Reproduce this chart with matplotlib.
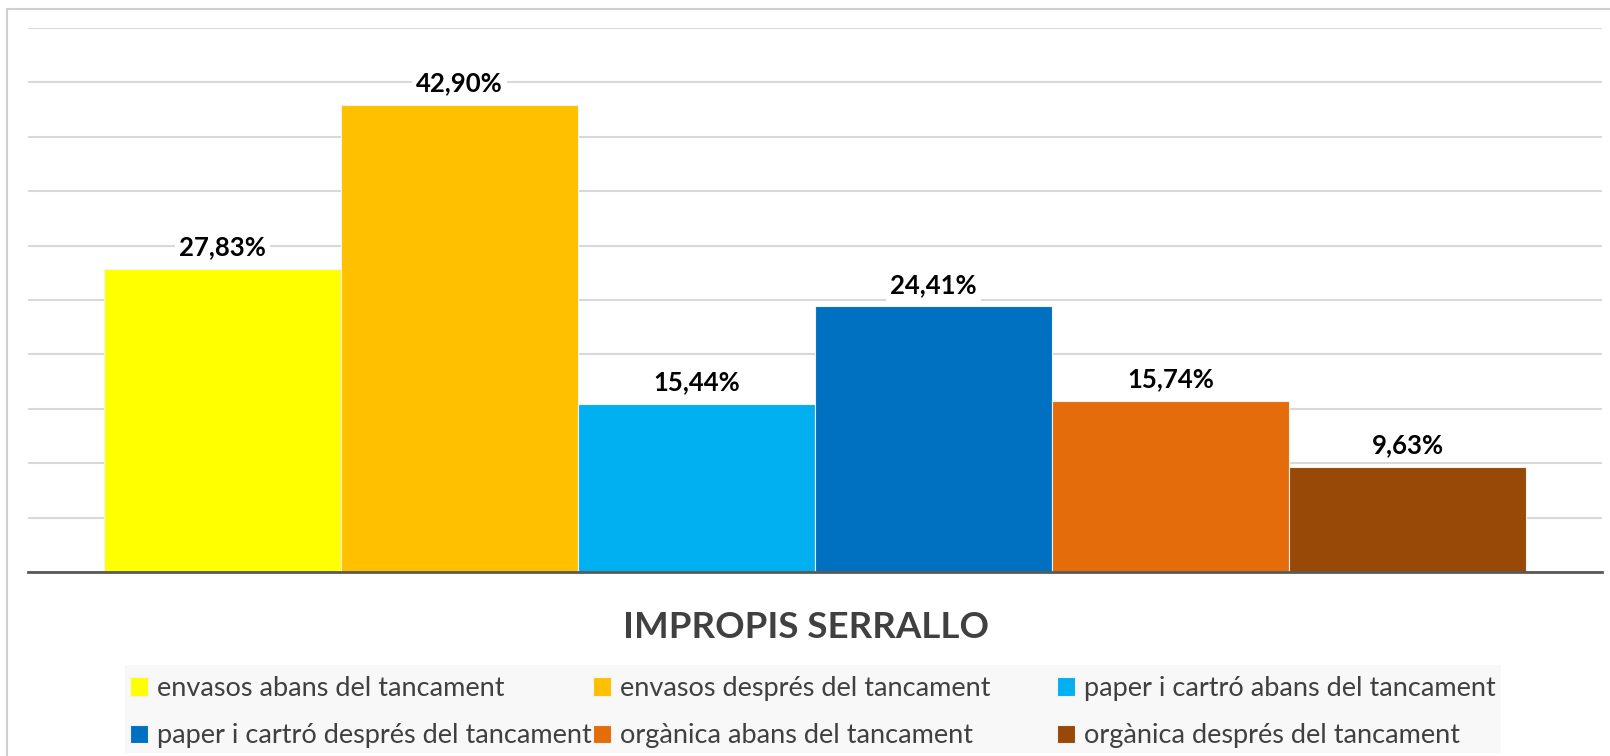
import matplotlib.pyplot as plt
from matplotlib.patches import Rectangle

# datos del gráfico
series = ["envasos abans del tancament", "envasos després del tancament",
          "paper i cartró abans del tancament", "paper i cartró després del tancament",
          "orgànica abans del tancament", "orgànica després del tancament"]
values = [27.83, 42.90, 15.44, 24.41, 15.74, 9.63]
colors = ["#FFFF00", "#FFC000", "#00B0F0", "#0070C0", "#E46C0A", "#984807"]
title = "IMPROPIS SERRALLO"

plt.rcParams['font.family'] = ['Lato', 'DejaVu Sans']

W, H = 1610, 756
fig = plt.figure(figsize=(W / 100, H / 100), dpi=100)

# marco exterior del gráfico
fig.patches.append(Rectangle((7 / W, -0.1), 1.2, 1 - 9 / H + 0.1, transform=fig.transFigure,
                             fill=False, edgecolor="#D0D0D0", linewidth=1.5))

ax = fig.add_axes([28 / W, 184 / H, 1574 / W, 544 / H])
bar_w = 0.1506
n = len(values)
bars = []
for i, (s, v, c) in enumerate(zip(series, values, colors)):
    x = (i - (n - 1) / 2) * bar_w
    b = ax.bar(x, v, width=bar_w, color=c, edgecolor="#F2F2F2", linewidth=0.8, label=s, zorder=2)
    bars.append(b)
    ax.annotate(f"{v:.2f}%".replace(".", ","), xy=(x, v), xytext=(0, 7), textcoords="offset points",
                ha="center", va="bottom", fontsize=18.5, fontweight="bold", color="black",
                bbox=dict(boxstyle="square,pad=0.15", facecolor="white", edgecolor="none"), zorder=3)

ax.set_xlim(-0.5, 0.5)
ax.set_ylim(0, 50)
ax.set_yticks(range(0, 51, 5))
ax.yaxis.grid(True, color="#D9D9D9", linewidth=1.5, zorder=0)
ax.tick_params(left=False, bottom=False, labelleft=False, labelbottom=False)
for side in ["top", "right", "left"]:
    ax.spines[side].set_visible(False)
ax.spines["bottom"].set_color("#595959")
ax.spines["bottom"].set_linewidth(2)
ax.spines["bottom"].set_zorder(4)

fig.text(806 / W, 1 - 627 / H, title, ha="center", va="center", fontsize=26.4,
         fontweight="bold", color="#404040")

# fondo de la leyenda
fig.patches.append(Rectangle((125 / W, 1 - 753 / H), (1501 - 125) / W, (753 - 665) / H,
                             transform=fig.transFigure, facecolor="#F8F8F8", edgecolor="none"))

# leyenda en tres columnas de igual ancho
col_x = [130, 593, 1057]
for j in range(3):
    hs = [bars[j], bars[j + 3]]
    ls = [series[j], series[j + 3]]
    leg = fig.legend(hs, ls, loc="upper left", bbox_to_anchor=(col_x[j] / W, 1 - 676 / H),
                     frameon=False, fontsize=19.5, labelcolor="#404040", handlelength=0.65,
                     handleheight=0.65, handletextpad=0.35, labelspacing=0.82, borderpad=0,
                     borderaxespad=0)

fig.savefig("out.png", dpi=100)
